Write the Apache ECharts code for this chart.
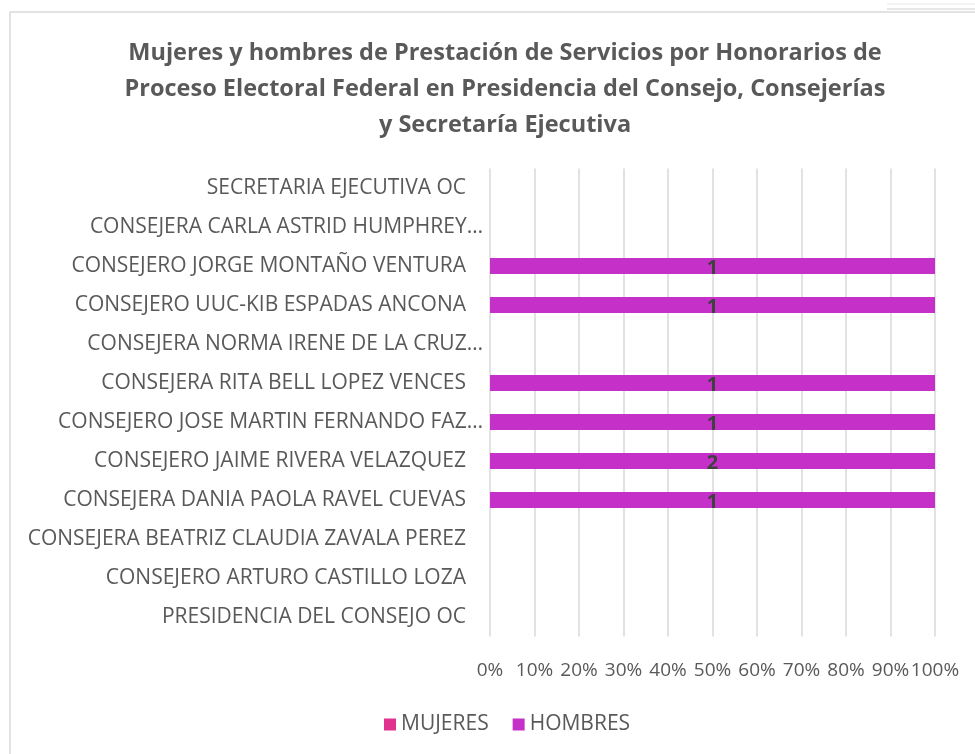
<!DOCTYPE html>
<html>
<head>
<meta charset="utf-8">
<script src="https://cdn.jsdelivr.net/npm/echarts@6/dist/echarts.min.js"></script>
<style>
  html, body { margin: 0; padding: 0; background: #fff; }
  #main { width: 975px; height: 754px; }
</style>
</head>
<body>
<div id="main"></div>
<script>
// categorias, de abajo hacia arriba
var categorias = [
  'PRESIDENCIA DEL CONSEJO OC',
  'CONSEJERO ARTURO CASTILLO LOZA',
  'CONSEJERA BEATRIZ CLAUDIA ZAVALA PEREZ',
  'CONSEJERA DANIA PAOLA RAVEL CUEVAS',
  'CONSEJERO JAIME RIVERA VELAZQUEZ',
  'CONSEJERO JOSE MARTIN FERNANDO FAZ…',
  'CONSEJERA RITA BELL LOPEZ VENCES',
  'CONSEJERA NORMA IRENE DE LA CRUZ…',
  'CONSEJERO UUC-KIB ESPADAS ANCONA',
  'CONSEJERO JORGE MONTAÑO VENTURA',
  'CONSEJERA CARLA ASTRID HUMPHREY…',
  'SECRETARIA EJECUTIVA OC'
];
var mujeres = [0, 0, 0, 0, 0, 0, 0, 0, 0, 0, 0, 0];
var hombres = [0, 0, 0, 1, 2, 1, 1, 0, 1, 1, 0, 0];

var fuente = '"Open Sans", sans-serif';

// porcentaje de cada grupo (barra apilada al 100%)
function pct(arr, i) {
  var t = mujeres[i] + hombres[i];
  return t > 0 ? arr[i] / t * 100 : 0;
}
var mujeresPct = mujeres.map(function (v, i) { return pct(mujeres, i); });
var hombresPct = hombres.map(function (v, i) { return pct(hombres, i); });

var chart = echarts.init(document.getElementById('main'));

var option = {
  backgroundColor: '#fff',
  animation: false,
  title: {
    text: 'Mujeres y hombres de Prestación de Servicios por Honorarios de\nProceso Electoral Federal en Presidencia del Consejo, Consejerías\ny Secretaría Ejecutiva',
    left: 500,
    textAlign: 'center',
    top: 30,
    textStyle: {
      fontFamily: fuente,
      fontSize: 23.5,
      fontWeight: 'bold',
      color: '#595959',
      lineHeight: 36
    }
  },
  legend: {
    data: ['MUJERES', 'HOMBRES'],
    left: 379,
    top: 709,
    icon: 'rect',
    itemWidth: 12,
    itemHeight: 12,
    itemGap: 24,
    textStyle: { fontFamily: fuente, fontSize: 21, color: '#595959' }
  },
  grid: {
    left: 490,
    right: 40,
    top: 168.5,
    bottom: 117.5,
    containLabel: false
  },
  xAxis: {
    type: 'value',
    min: 0,
    max: 100,
    interval: 10,
    axisLine: { show: false },
    axisTick: { show: false },
    splitLine: { show: true, lineStyle: { color: '#D9D9D9', width: 1.5 } },
    axisLabel: {
      formatter: '{value}%',
      fontFamily: fuente,
      fontSize: 19,
      color: '#595959',
      margin: 25,
      showMinLabel: true,
      showMaxLabel: true,
      hideOverlap: false
    }
  },
  yAxis: {
    type: 'category',
    data: categorias,
    axisLine: { show: false },
    axisTick: { show: false },
    splitLine: { show: false },
    axisLabel: {
      fontFamily: fuente,
      fontSize: 21,
      color: '#595959',
      margin: 7,
      formatter: function (v) {
        return v.indexOf('…') >= 0 ? '{t|' + v + '}' : '{n|' + v + '}';
      },
      rich: {
        n: { fontFamily: fuente, fontSize: 21, color: '#595959', padding: [0, 17, 0, 0] },
        t: { fontFamily: fuente, fontSize: 21, color: '#595959' }
      }
    }
  },
  series: [
    {
      name: 'MUJERES',
      type: 'bar',
      stack: 'total',
      data: mujeresPct,
      barWidth: 16,
      itemStyle: { color: '#E0338E' },
      label: { show: false }
    },
    {
      name: 'HOMBRES',
      type: 'bar',
      stack: 'total',
      data: hombresPct,
      barWidth: 16,
      itemStyle: { color: '#C530C8' },
      label: {
        show: true,
        position: 'inside',
        offset: [0, 2],
        fontFamily: fuente,
        fontSize: 20,
        fontWeight: 'bold',
        color: '#404040',
        formatter: function (p) {
          return hombres[p.dataIndex] > 0 ? String(hombres[p.dataIndex]) : '';
        }
      }
    }
  ],
  graphic: [
    {
      type: 'rect',
      silent: true,
      shape: { x: 10, y: 12, width: 1000, height: 800 },
      style: { fill: 'none', stroke: '#D9D9D9', lineWidth: 1.5 },
      z: -1
    },
    {
      type: 'line',
      silent: true,
      shape: { x1: 887, y1: 4, x2: 975, y2: 4 },
      style: { stroke: '#E6E6E6', lineWidth: 1 }
    },
    {
      type: 'line',
      silent: true,
      shape: { x1: 887, y1: 9, x2: 975, y2: 9 },
      style: { stroke: '#D0D0D0', lineWidth: 1 }
    }
  ]
};

chart.setOption(option);
</script>
</body>
</html>
